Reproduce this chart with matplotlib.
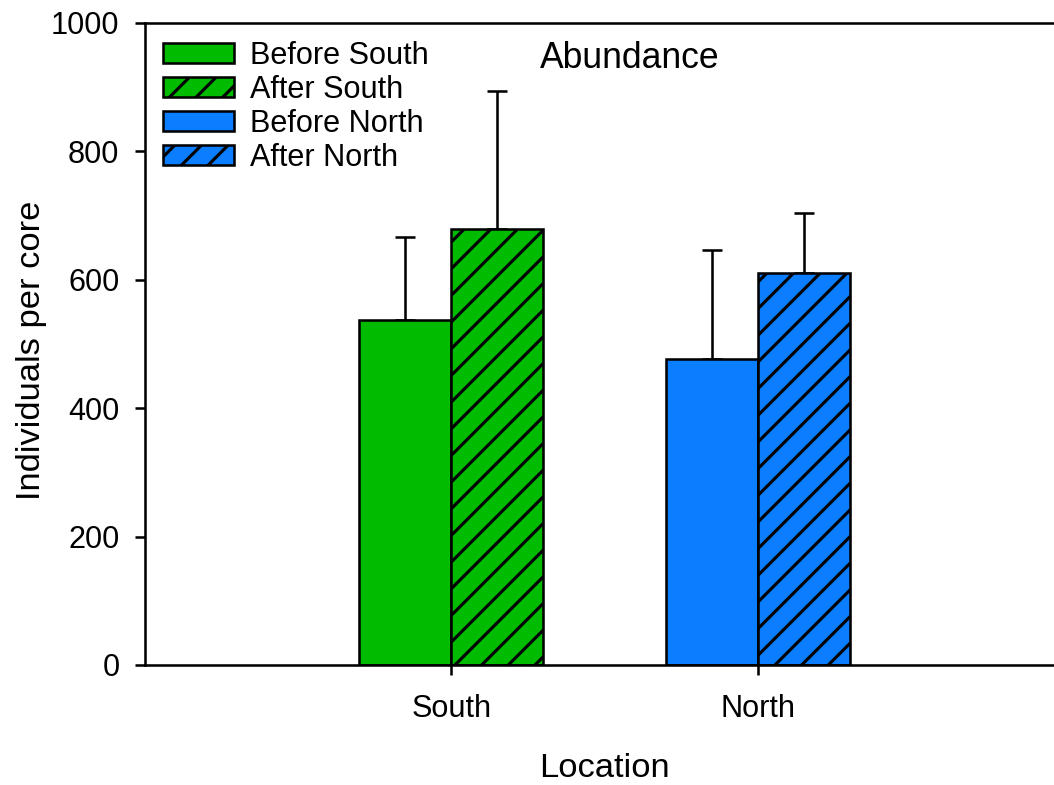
import matplotlib
matplotlib.use("Agg")
import matplotlib.pyplot as plt
from matplotlib.patches import Patch
import numpy as np

# Abundance data (individuals per core), mean and upper error
locations = ["South", "North"]
series_labels = ["Before South", "After South", "Before North", "After North"]
before_means = [537, 477]
after_means = [679, 611]
before_err = [130, 169]
after_err = [215, 93]

green = "#00BB00"
blue = "#0A7EFF"

plt.rcParams["font.family"] = ["Liberation Sans", "DejaVu Sans"]
plt.rcParams["hatch.linewidth"] = 1.4
plt.rcParams["hatch.color"] = "black"

fig = plt.figure(figsize=(1054 / 160, 785 / 160), dpi=160)
ax = fig.add_axes([145 / 1054, 120 / 785, 919 / 1054, 642 / 785])

x = np.arange(len(locations))
w = 0.3
colors = [green, blue]
lw = 1.15

for i in range(len(locations)):
    ax.bar(x[i] - w / 2, before_means[i], w, color=colors[i], edgecolor="black",
           linewidth=lw, zorder=2)
    ax.bar(x[i] + w / 2, after_means[i], w, color=colors[i], edgecolor="black",
           linewidth=lw, hatch="//", zorder=2)
    ax.errorbar(x[i] - w / 2, before_means[i], yerr=[[0], [before_err[i]]],
                fmt="none", ecolor="black", elinewidth=lw, capsize=4.5,
                capthick=lw, zorder=1)
    ax.errorbar(x[i] + w / 2, after_means[i], yerr=[[0], [after_err[i]]],
                fmt="none", ecolor="black", elinewidth=lw, capsize=4.5,
                capthick=lw, zorder=1)

ax.set_xlim(-1, 2)
ax.set_ylim(0, 1000)
ax.set_yticks(np.arange(0, 1001, 200))
ax.set_xticks(x)
ax.set_xticklabels(locations)

for s in ["left", "bottom", "top"]:
    ax.spines[s].set_linewidth(lw)
ax.spines["right"].set_visible(False)

ax.tick_params(axis="both", direction="out", length=4.5, width=lw,
               labelsize=13.8, pad=7)
ax.tick_params(axis="x", pad=8.7)
ax.tick_params(top=False, right=False)

ax.set_ylabel("Individuals per core", fontsize=15.5)
ax.yaxis.set_label_coords(-0.107, 0.49)
ax.set_xlabel("Location", fontsize=15.5, labelpad=13)

ax.text(0.528, 0.944, "Abundance", transform=ax.transAxes, fontsize=16,
        ha="center", va="center")

handles = [
    Patch(facecolor=green, edgecolor="black", linewidth=lw),
    Patch(facecolor=green, edgecolor="black", linewidth=lw, hatch="//"),
    Patch(facecolor=blue, edgecolor="black", linewidth=lw),
    Patch(facecolor=blue, edgecolor="black", linewidth=lw, hatch="//"),
]
ax.legend(handles, series_labels, loc="upper left",
          bbox_to_anchor=(18 / 919, 1 - 18 / 642), frameon=False,
          fontsize=13.8, handlelength=2.3, handleheight=0.62,
          handletextpad=0.55, labelspacing=0.13, borderpad=0, borderaxespad=0)

fig.savefig("out.png", dpi=160)
